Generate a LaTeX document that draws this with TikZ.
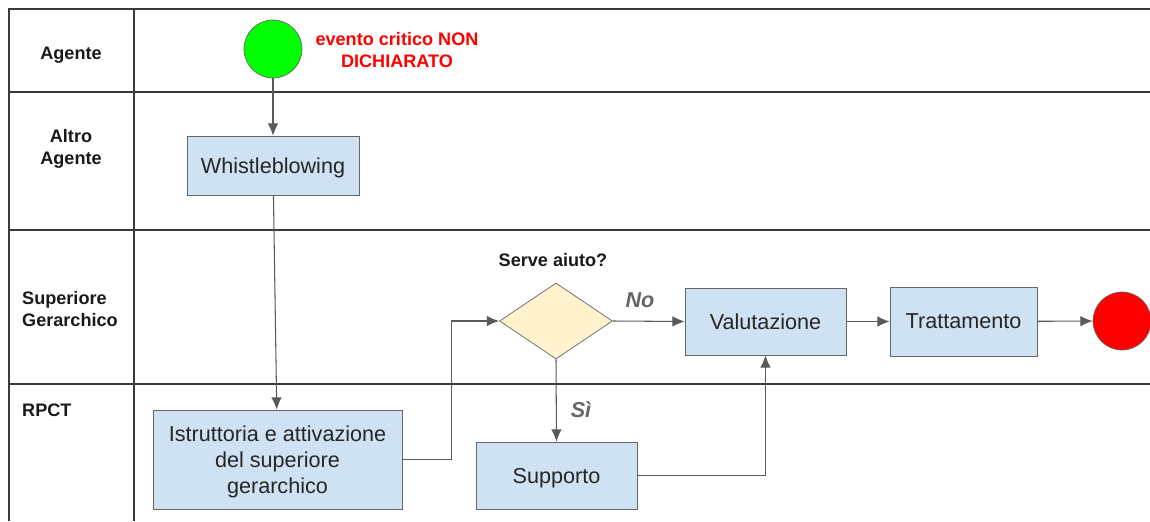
\documentclass[tikz,border=0pt]{standalone}
\usepackage{fontspec}
\setmainfont{Liberation Sans}
\usetikzlibrary{arrows.meta,shapes.geometric}

\definecolor{boxblue}{HTML}{CFE2F3}
\definecolor{boxline}{HTML}{666666}
\definecolor{decfill}{HTML}{FFF2CC}
\definecolor{flowgray}{HTML}{595959}
\definecolor{lanegray}{HTML}{3A3A3A}
\definecolor{labgray}{HTML}{666666}

\begin{document}
\begin{tikzpicture}[%
    x=0.02cm, y=-0.02cm,
    font=\fontsize{12.3}{14.7}\selectfont,
    block/.style={
      rectangle,
      draw=boxline,
      fill=boxblue,
      text=black!85,
      align=center,
      text depth=0pt,
      inner sep=2pt
    },
    decision/.style={
      diamond,
      draw=boxline,
      fill=decfill,
      inner sep=0pt,
      minimum width=2.26cm,
      minimum height=1.52cm
    },
    event/.style={
      circle,
      draw=boxline,
      inner sep=0pt,
      minimum size=1.16cm
    },
    line/.style={
      draw=flowgray,
      line width=0.6pt,
      -{Latex[length=7pt,width=6pt]}
    },
    lane/.style={
      draw=lanegray,
      line width=0.8pt
    },
    lanelabel/.style={
      font=\fontsize{10.3}{12.6}\selectfont\bfseries,
      text=black!90
    },
    branch/.style={
      font=\fontsize{12.3}{14}\selectfont\bfseries\itshape,
      text=labgray
    }
  ]
    \useasboundingbox (0,0) rectangle (1150,521);

    % swimlanes
    \draw[lane] (1150,9) -- (9,9) -- (9,521);
    \draw[lane] (134,9) -- (134,521);
    \foreach \y in {92,230,384}
      \draw[lane] (9,\y) -- (1150,\y);

    \node[lanelabel] (lagente) at (71,55) {Agente};
    \node[lanelabel, align=center] (laltro) at (71,149) {Altro\\Agente};
    \node[lanelabel, align=left, anchor=west] (lsup) at (16,309) {Superiore\\Gerarchico};
    \node[lanelabel, anchor=west] (lrpct) at (16,410) {RPCT};

    % events
    \node[event, fill=green] (start) at (273,49) {};
    \node[lanelabel, text=red, align=center] (startlbl) at (397,50)
      {evento critico NON\\DICHIARATO};
    \node[event, fill=red] (stop) at (1122,321) {};

    % activities
    \node[block, minimum width=3.44cm, minimum height=1.18cm] (whistle) at (273,165.5) {Whistleblowing};
    \node[block, minimum width=4.98cm, minimum height=1.98cm] (istr) at (277.5,459.5)
      {Istruttoria e attivazione\\del superiore\\gerarchico};
    \node[decision] (aiuto) at (556,321) {};
    \node[lanelabel] (aiutolbl) at (553,260) {Serve aiuto?};
    \node[block, minimum width=3.22cm, minimum height=1.34cm] (valut) at (765.5,321.5) {Valutazione};
    \node[block, minimum width=2.94cm, minimum height=1.38cm] (tratt) at (963.5,321.5) {Trattamento};
    \node[block, minimum width=3.22cm, minimum height=1.34cm] (supp) at (556.5,475.5) {Supporto};

    \node[branch] (nolbl) at (640,300) {No};
    \node[branch] (silbl) at (581,410) {Sì};

    % flow
    \draw[line] (start) -- (whistle);
    \draw[line] (whistle) -- (istr);
    \draw[line] (istr.east) -- ++(49,0) |- (aiuto.west);
    \draw[line] (aiuto.east) -- (valut.west);
    \draw[line] (aiuto.south) -- (supp.north);
    \draw[line] (supp.east) -| (valut.south);
    \draw[line] (valut) -- (tratt);
    \draw[line] (tratt) -- (stop);
\end{tikzpicture}
\end{document}
